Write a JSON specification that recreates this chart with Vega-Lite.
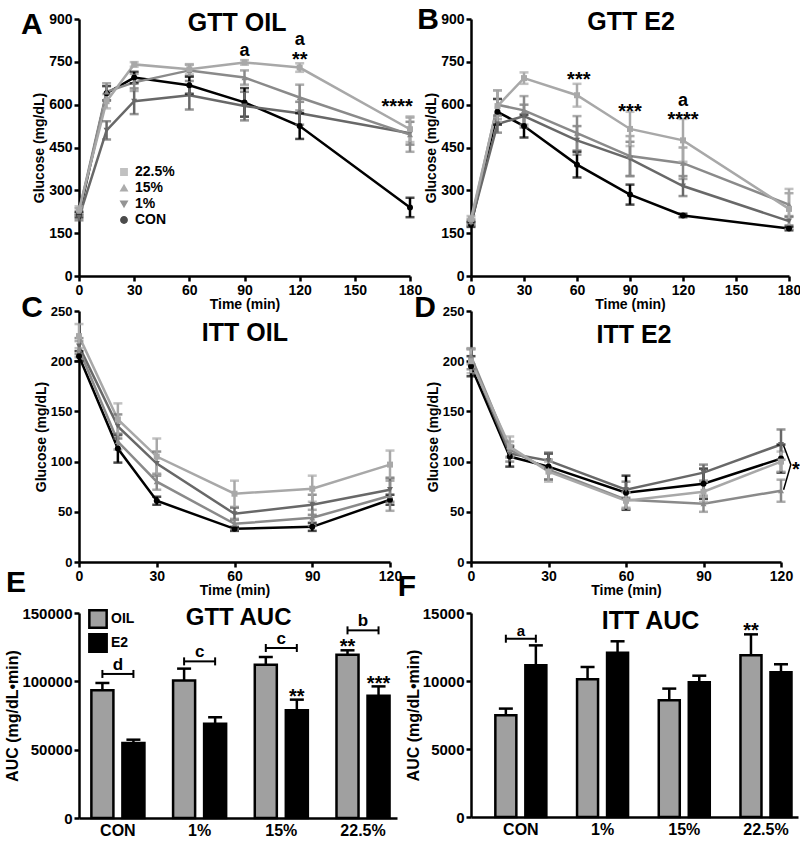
{
"$schema": "https://vega.github.io/schema/vega-lite/v6.json",
"background": "white",
"padding": {"left": 4, "top": 5, "right": 2, "bottom": 2},
"config": {
 "font": "Liberation Sans",
 "view": {"stroke": null},
 "axis": {"grid": false, "domainColor": "#000", "domainWidth": 2.5, "tickColor": "#000", "tickWidth": 2.5, "tickSize": 5, "labelColor": "#000", "labelFont": "Liberation Sans", "labelFontWeight": "bold", "labelFontSize": 14, "titleFont": "Liberation Sans", "titleFontWeight": "bold", "titleFontSize": 14, "titleColor": "#000", "labelPadding": 2, "titlePadding": 2, "labelFlush": false, "labelOverlap": false},
 "axisX": {"titlePadding": 0},
 "legend": {"labelFont": "Liberation Sans", "labelFontWeight": "bold", "labelColor": "#000"},
 "text": {"font": "Liberation Sans", "fontWeight": "bold", "color": "#000"}
},
"datasets": {
 "gttOil": [
  {"t":0,"group":"CON","mean":215,"sem":10},{"t":15,"group":"CON","mean":640,"sem":25},{"t":30,"group":"CON","mean":695,"sem":20},{"t":60,"group":"CON","mean":668,"sem":30},{"t":90,"group":"CON","mean":608,"sem":50},{"t":120,"group":"CON","mean":525,"sem":45},{"t":180,"group":"CON","mean":240,"sem":34},
  {"t":0,"group":"1%","mean":205,"sem":10},{"t":15,"group":"1%","mean":510,"sem":32},{"t":30,"group":"1%","mean":612,"sem":45},{"t":60,"group":"1%","mean":633,"sem":50},{"t":90,"group":"1%","mean":595,"sem":50},{"t":120,"group":"1%","mean":570,"sem":40},{"t":180,"group":"1%","mean":500,"sem":40},
  {"t":0,"group":"15%","mean":225,"sem":12},{"t":15,"group":"15%","mean":645,"sem":30},{"t":30,"group":"15%","mean":678,"sem":30},{"t":60,"group":"15%","mean":720,"sem":20},{"t":90,"group":"15%","mean":695,"sem":25},{"t":120,"group":"15%","mean":625,"sem":45},{"t":180,"group":"15%","mean":495,"sem":60},
  {"t":0,"group":"22.5%","mean":232,"sem":12},{"t":15,"group":"22.5%","mean":612,"sem":25},{"t":30,"group":"22.5%","mean":741,"sem":8},{"t":60,"group":"22.5%","mean":724,"sem":18},{"t":90,"group":"22.5%","mean":748,"sem":8},{"t":120,"group":"22.5%","mean":730,"sem":15},{"t":180,"group":"22.5%","mean":514,"sem":45}
 ],
 "gttE2": [
  {"t":0,"group":"CON","mean":180,"sem":8},{"t":15,"group":"CON","mean":575,"sem":45},{"t":30,"group":"CON","mean":525,"sem":40},{"t":60,"group":"CON","mean":390,"sem":45},{"t":90,"group":"CON","mean":285,"sem":35},{"t":120,"group":"CON","mean":212,"sem":6},{"t":180,"group":"CON","mean":166,"sem":6},
  {"t":0,"group":"1%","mean":185,"sem":8},{"t":15,"group":"1%","mean":532,"sem":30},{"t":30,"group":"1%","mean":560,"sem":40},{"t":60,"group":"1%","mean":475,"sem":50},{"t":90,"group":"1%","mean":410,"sem":60},{"t":120,"group":"1%","mean":315,"sem":35},{"t":180,"group":"1%","mean":192,"sem":15},
  {"t":0,"group":"15%","mean":190,"sem":10},{"t":15,"group":"15%","mean":600,"sem":50},{"t":30,"group":"15%","mean":580,"sem":50},{"t":60,"group":"15%","mean":500,"sem":60},{"t":90,"group":"15%","mean":420,"sem":70},{"t":120,"group":"15%","mean":395,"sem":55},{"t":180,"group":"15%","mean":250,"sem":40},
  {"t":0,"group":"22.5%","mean":200,"sem":10},{"t":15,"group":"22.5%","mean":595,"sem":55},{"t":30,"group":"22.5%","mean":693,"sem":20},{"t":60,"group":"22.5%","mean":633,"sem":40},{"t":90,"group":"22.5%","mean":515,"sem":60},{"t":120,"group":"22.5%","mean":475,"sem":75},{"t":180,"group":"22.5%","mean":235,"sem":70}
 ],
 "ittOil": [
  {"t":0,"group":"CON","mean":205,"sem":5},{"t":15,"group":"CON","mean":113,"sem":14},{"t":30,"group":"CON","mean":61,"sem":4},{"t":60,"group":"CON","mean":33,"sem":2},{"t":90,"group":"CON","mean":35,"sem":4},{"t":120,"group":"CON","mean":62,"sem":5},
  {"t":0,"group":"1%","mean":215,"sem":8},{"t":15,"group":"1%","mean":135,"sem":12},{"t":30,"group":"1%","mean":98,"sem":12},{"t":60,"group":"1%","mean":48,"sem":6},{"t":90,"group":"1%","mean":57,"sem":10},{"t":120,"group":"1%","mean":72,"sem":12},
  {"t":0,"group":"15%","mean":212,"sem":8},{"t":15,"group":"15%","mean":120,"sem":8},{"t":30,"group":"15%","mean":80,"sem":8},{"t":60,"group":"15%","mean":38,"sem":5},{"t":90,"group":"15%","mean":44,"sem":8},{"t":120,"group":"15%","mean":66,"sem":15},
  {"t":0,"group":"22.5%","mean":225,"sem":12},{"t":15,"group":"22.5%","mean":142,"sem":16},{"t":30,"group":"22.5%","mean":105,"sem":18},{"t":60,"group":"22.5%","mean":68,"sem":13},{"t":90,"group":"22.5%","mean":73,"sem":13},{"t":120,"group":"22.5%","mean":97,"sem":14}
 ],
 "ittE2": [
  {"t":0,"group":"CON","mean":195,"sem":10},{"t":15,"group":"CON","mean":105,"sem":10},{"t":30,"group":"CON","mean":95,"sem":13},{"t":60,"group":"CON","mean":69,"sem":17},{"t":90,"group":"CON","mean":78,"sem":15},{"t":120,"group":"CON","mean":103,"sem":14},
  {"t":0,"group":"1%","mean":202,"sem":10},{"t":15,"group":"1%","mean":108,"sem":8},{"t":30,"group":"1%","mean":101,"sem":8},{"t":60,"group":"1%","mean":72,"sem":8},{"t":90,"group":"1%","mean":89,"sem":8},{"t":120,"group":"1%","mean":117,"sem":15},
  {"t":0,"group":"15%","mean":205,"sem":8},{"t":15,"group":"15%","mean":112,"sem":8},{"t":30,"group":"15%","mean":92,"sem":10},{"t":60,"group":"15%","mean":62,"sem":8},{"t":90,"group":"15%","mean":58,"sem":8},{"t":120,"group":"15%","mean":71,"sem":11},
  {"t":0,"group":"22.5%","mean":200,"sem":12},{"t":15,"group":"22.5%","mean":115,"sem":10},{"t":30,"group":"22.5%","mean":90,"sem":10},{"t":60,"group":"22.5%","mean":61,"sem":8},{"t":90,"group":"22.5%","mean":70,"sem":10},{"t":120,"group":"22.5%","mean":100,"sem":10}
 ],
 "gttAuc": [
  {"cat":"CON","trt":"OIL","mean":93400,"hi":98800},{"cat":"CON","trt":"E2","mean":54900,"hi":57300},
  {"cat":"1%","trt":"OIL","mean":100700,"hi":109300},{"cat":"1%","trt":"E2","mean":69000,"hi":73700},
  {"cat":"15%","trt":"OIL","mean":112200,"hi":117800},{"cat":"15%","trt":"E2","mean":78800,"hi":86600},
  {"cat":"22.5%","trt":"OIL","mean":119500,"hi":122700},{"cat":"22.5%","trt":"E2","mean":89500,"hi":96300}
 ],
 "ittAuc": [
  {"cat":"CON","trt":"OIL","mean":7480,"hi":7970},{"cat":"CON","trt":"E2","mean":11150,"hi":12620},
  {"cat":"1%","trt":"OIL","mean":10120,"hi":11030},{"cat":"1%","trt":"E2","mean":12080,"hi":12920},
  {"cat":"15%","trt":"OIL","mean":8580,"hi":9440},{"cat":"15%","trt":"E2","mean":9900,"hi":10390},
  {"cat":"22.5%","trt":"OIL","mean":11890,"hi":13430},{"cat":"22.5%","trt":"E2","mean":10640,"hi":11230}
 ],
 "gttBr": [{"cat":"CON","lvl":105400,"lab":"d"},{"cat":"1%","lvl":114600,"lab":"c"},{"cat":"15%","lvl":124400,"lab":"c"},{"cat":"22.5%","lvl":137300,"lab":"b"}],
 "gttCap": [{"cat":"CON","trt":"OIL","lvl":105400},{"cat":"CON","trt":"E2","lvl":105400},{"cat":"1%","trt":"OIL","lvl":114600},{"cat":"1%","trt":"E2","lvl":114600},{"cat":"15%","trt":"OIL","lvl":124400},{"cat":"15%","trt":"E2","lvl":124400},{"cat":"22.5%","trt":"OIL","lvl":137300},{"cat":"22.5%","trt":"E2","lvl":137300}],
 "gttStar": [{"cat":"22.5%","trt":"OIL","v":132500,"lab":"**"},{"cat":"15%","trt":"E2","v":95500,"lab":"**"},{"cat":"22.5%","trt":"E2","v":105500,"lab":"***"}],
 "ittBr": [{"cat":"CON","lvl":13110,"lab":"a"}],
 "ittCap": [{"cat":"CON","trt":"OIL","lvl":13110},{"cat":"CON","trt":"E2","lvl":13110}],
 "ittStar": [{"cat":"22.5%","trt":"OIL","v":14400,"lab":"**"}]
},
"columns": 2,
"align": "each",
"spacing": {"row": -30, "column": -25},
"resolve": {"scale": {"x": "independent", "y": "independent", "color": "independent", "shape": "independent", "fill": "independent", "xOffset": "independent"}},
"concat": [
 {
  "width": 331, "height": 257,
  "layer": [
   {"data": {"name": "gttOil"}, "mark": {"type": "line", "strokeWidth": 2.5},
    "encoding": {
     "x": {"field": "t", "type": "quantitative", "scale": {"domain": [0, 180], "nice": false}, "axis": {"values": [0,30,60,90,120,150,180]}, "title": "Time (min)"},
     "y": {"field": "mean", "type": "quantitative", "scale": {"domain": [0, 900], "nice": false}, "axis": {"values": [0,150,300,450,600,750,900]}, "title": "Glucose (mg/dL)"},
     "color": {"field": "group", "type": "nominal", "scale": {"domain": ["22.5%","15%","1%","CON"], "range": ["#a8a8a8","#8a8a8a","#686868","#000000"]}, "legend": {"title": null, "orient": "none", "legendX": 38, "legendY": 146, "labelFontSize": 14, "symbolSize": 40, "rowPadding": 2, "labelOffset": 4}}
    }},
   {"data": {"name": "gttOil"}, "mark": {"type": "errorbar", "ticks": {"size": 9}, "thickness": 2.5},
    "encoding": {"x": {"field": "t", "type": "quantitative"}, "y": {"field": "mean", "type": "quantitative", "title": "Glucose (mg/dL)"}, "yError": {"field": "sem"}, "color": {"field": "group", "type": "nominal"}}},
   {"data": {"name": "gttOil"}, "mark": {"type": "point", "filled": true, "size": 36, "opacity": 1},
    "encoding": {"x": {"field": "t", "type": "quantitative"}, "y": {"field": "mean", "type": "quantitative", "title": "Glucose (mg/dL)"}, "color": {"field": "group", "type": "nominal"},
     "shape": {"field": "group", "type": "nominal", "scale": {"domain": ["22.5%","15%","1%","CON"], "range": ["square","triangle-up","triangle-down","circle"]}, "legend": {"title": null, "orient": "none", "legendX": 38, "legendY": 146, "labelFontSize": 14, "symbolSize": 40, "rowPadding": 2, "labelOffset": 4}}}},
   {"data": {"values": [{"t":90,"v":771,"lab":"a"},{"t":120,"v":808,"lab":"a"}]}, "mark": {"type": "text", "fontSize": 18, "baseline": "alphabetic"},
    "encoding": {"x": {"field": "t", "type": "quantitative"}, "y": {"field": "v", "type": "quantitative"}, "text": {"field": "lab"}}},
   {"data": {"values": [{"t":120,"v":790,"lab":"**"},{"t":173,"v":628,"lab":"****"}]}, "mark": {"type": "text", "fontSize": 20, "baseline": "top"},
    "encoding": {"x": {"field": "t", "type": "quantitative"}, "y": {"field": "v", "type": "quantitative"}, "text": {"field": "lab"}}},
   {"data": {"values": [{"lab": "A"}]}, "mark": {"type": "text", "fontSize": 30, "baseline": "middle"},
    "encoding": {"x": {"datum": -25.6, "type": "quantitative"}, "y": {"datum": 879, "type": "quantitative"}, "text": {"field": "lab"}}},
   {"data": {"values": [{"lab": "GTT OIL"}]}, "mark": {"type": "text", "fontSize": 25, "baseline": "middle"},
    "encoding": {"x": {"datum": 86, "type": "quantitative"}, "y": {"datum": 886, "type": "quantitative"}, "text": {"field": "lab"}}}
  ]
 },
 {
  "width": 318, "height": 257,
  "layer": [
   {"data": {"name": "gttE2"}, "mark": {"type": "line", "strokeWidth": 2.5},
    "encoding": {
     "x": {"field": "t", "type": "quantitative", "scale": {"domain": [0, 180], "nice": false}, "axis": {"values": [0,30,60,90,120,150,180]}, "title": "Time (min)"},
     "y": {"field": "mean", "type": "quantitative", "scale": {"domain": [0, 900], "nice": false}, "axis": {"values": [0,150,300,450,600,750,900]}, "title": "Glucose (mg/dL)"},
     "color": {"field": "group", "type": "nominal", "scale": {"domain": ["22.5%","15%","1%","CON"], "range": ["#a8a8a8","#8a8a8a","#686868","#000000"]}, "legend": null}
    }},
   {"data": {"name": "gttE2"}, "mark": {"type": "errorbar", "ticks": {"size": 9}, "thickness": 2.5},
    "encoding": {"x": {"field": "t", "type": "quantitative"}, "y": {"field": "mean", "type": "quantitative", "title": "Glucose (mg/dL)"}, "yError": {"field": "sem"}, "color": {"field": "group", "type": "nominal", "legend": null}}},
   {"data": {"name": "gttE2"}, "mark": {"type": "point", "filled": true, "size": 36, "opacity": 1},
    "encoding": {"x": {"field": "t", "type": "quantitative"}, "y": {"field": "mean", "type": "quantitative", "title": "Glucose (mg/dL)"}, "color": {"field": "group", "type": "nominal", "legend": null},
     "shape": {"field": "group", "type": "nominal", "scale": {"domain": ["22.5%","15%","1%","CON"], "range": ["square","triangle-up","triangle-down","circle"]}, "legend": null}}},
   {"data": {"values": [{"t":120,"v":595,"lab":"a"}]}, "mark": {"type": "text", "fontSize": 18, "baseline": "alphabetic"},
    "encoding": {"x": {"field": "t", "type": "quantitative"}, "y": {"field": "v", "type": "quantitative"}, "text": {"field": "lab"}}},
   {"data": {"values": [{"t":61,"v":722,"lab":"***"},{"t":90,"v":610,"lab":"***"},{"t":120,"v":580,"lab":"****"}]}, "mark": {"type": "text", "fontSize": 20, "baseline": "top"},
    "encoding": {"x": {"field": "t", "type": "quantitative"}, "y": {"field": "v", "type": "quantitative"}, "text": {"field": "lab"}}},
   {"data": {"values": [{"lab": "B"}]}, "mark": {"type": "text", "fontSize": 30, "baseline": "middle"},
    "encoding": {"x": {"datum": -24.3, "type": "quantitative"}, "y": {"datum": 895, "type": "quantitative"}, "text": {"field": "lab"}}},
   {"data": {"values": [{"lab": "GTT E2"}]}, "mark": {"type": "text", "fontSize": 25, "baseline": "middle"},
    "encoding": {"x": {"datum": 90.6, "type": "quantitative"}, "y": {"datum": 888, "type": "quantitative"}, "text": {"field": "lab"}}}
  ]
 },
 {
  "width": 311, "height": 251,
  "layer": [
   {"data": {"name": "ittOil"}, "mark": {"type": "line", "strokeWidth": 2.5},
    "encoding": {
     "x": {"field": "t", "type": "quantitative", "scale": {"domain": [0, 120], "nice": false}, "axis": {"values": [0,30,60,90,120]}, "title": "Time (min)"},
     "y": {"field": "mean", "type": "quantitative", "scale": {"domain": [0, 250], "nice": false}, "axis": {"values": [0,50,100,150,200,250], "labelFontSize": 13}, "title": "Glucose (mg/dL)"},
     "color": {"field": "group", "type": "nominal", "scale": {"domain": ["22.5%","15%","1%","CON"], "range": ["#a8a8a8","#8a8a8a","#686868","#000000"]}, "legend": null}
    }},
   {"data": {"name": "ittOil"}, "mark": {"type": "errorbar", "ticks": {"size": 9}, "thickness": 2.5},
    "encoding": {"x": {"field": "t", "type": "quantitative"}, "y": {"field": "mean", "type": "quantitative", "title": "Glucose (mg/dL)"}, "yError": {"field": "sem"}, "color": {"field": "group", "type": "nominal", "legend": null}}},
   {"data": {"name": "ittOil"}, "mark": {"type": "point", "filled": true, "size": 36, "opacity": 1},
    "encoding": {"x": {"field": "t", "type": "quantitative"}, "y": {"field": "mean", "type": "quantitative", "title": "Glucose (mg/dL)"}, "color": {"field": "group", "type": "nominal", "legend": null},
     "shape": {"field": "group", "type": "nominal", "scale": {"domain": ["22.5%","15%","1%","CON"], "range": ["square","triangle-up","triangle-down","circle"]}, "legend": null}}},
   {"data": {"values": [{"lab": "C"}]}, "mark": {"type": "text", "fontSize": 30, "baseline": "middle"},
    "encoding": {"x": {"datum": -18.1, "type": "quantitative"}, "y": {"datum": 253, "type": "quantitative"}, "text": {"field": "lab"}}},
   {"data": {"values": [{"lab": "ITT OIL"}]}, "mark": {"type": "text", "fontSize": 25, "baseline": "middle"},
    "encoding": {"x": {"datum": 64, "type": "quantitative"}, "y": {"datum": 228, "type": "quantitative"}, "text": {"field": "lab"}}}
  ]
 },
 {
  "width": 310, "height": 251,
  "layer": [
   {"data": {"name": "ittE2"}, "mark": {"type": "line", "strokeWidth": 2.5},
    "encoding": {
     "x": {"field": "t", "type": "quantitative", "scale": {"domain": [0, 120], "nice": false}, "axis": {"values": [0,30,60,90,120]}, "title": "Time (min)"},
     "y": {"field": "mean", "type": "quantitative", "scale": {"domain": [0, 250], "nice": false}, "axis": {"values": [0,50,100,150,200,250], "labelFontSize": 13}, "title": "Glucose (mg/dL)"},
     "color": {"field": "group", "type": "nominal", "scale": {"domain": ["22.5%","15%","1%","CON"], "range": ["#a8a8a8","#8a8a8a","#686868","#000000"]}, "legend": null}
    }},
   {"data": {"name": "ittE2"}, "mark": {"type": "errorbar", "ticks": {"size": 9}, "thickness": 2.5},
    "encoding": {"x": {"field": "t", "type": "quantitative"}, "y": {"field": "mean", "type": "quantitative", "title": "Glucose (mg/dL)"}, "yError": {"field": "sem"}, "color": {"field": "group", "type": "nominal", "legend": null}}},
   {"data": {"name": "ittE2"}, "mark": {"type": "point", "filled": true, "size": 36, "opacity": 1},
    "encoding": {"x": {"field": "t", "type": "quantitative"}, "y": {"field": "mean", "type": "quantitative", "title": "Glucose (mg/dL)"}, "color": {"field": "group", "type": "nominal", "legend": null},
     "shape": {"field": "group", "type": "nominal", "scale": {"domain": ["22.5%","15%","1%","CON"], "range": ["square","triangle-up","triangle-down","circle"]}, "legend": null}}},
   {"data": {"values": [{"t":121,"v":116,"o":1},{"t":123.8,"v":97,"o":2},{"t":121,"v":72,"o":3}]}, "mark": {"type": "line", "strokeWidth": 1.5, "color": "#000"},
    "encoding": {"x": {"field": "t", "type": "quantitative"}, "y": {"field": "v", "type": "quantitative"}, "order": {"field": "o"}}},
   {"data": {"values": [{"t":125.8,"v":97,"lab":"*"}]}, "mark": {"type": "text", "fontSize": 20, "baseline": "middle", "dy": 5},
    "encoding": {"x": {"field": "t", "type": "quantitative"}, "y": {"field": "v", "type": "quantitative"}, "text": {"field": "lab"}}},
   {"data": {"values": [{"lab": "D"}]}, "mark": {"type": "text", "fontSize": 30, "baseline": "middle"},
    "encoding": {"x": {"datum": -17.8, "type": "quantitative"}, "y": {"datum": 253, "type": "quantitative"}, "text": {"field": "lab"}}},
   {"data": {"values": [{"lab": "ITT E2"}]}, "mark": {"type": "text", "fontSize": 25, "baseline": "middle"},
    "encoding": {"x": {"datum": 63.1, "type": "quantitative"}, "y": {"datum": 226, "type": "quantitative"}, "text": {"field": "lab"}}}
  ]
 },
 {
  "width": 318, "height": 205,
  "layer": [
   {"data": {"name": "gttAuc"}, "mark": {"type": "bar", "stroke": "#000", "strokeWidth": 2.5},
    "encoding": {
     "x": {"field": "cat", "type": "nominal", "scale": {"domain": ["CON","1%","15%","22.5%"], "paddingInner": 0.34, "paddingOuter": 0.116, "align": 0.63}, "axis": {"title": null, "labelAngle": 0, "ticks": false, "labelFontSize": 16, "labelPadding": 4}},
     "xOffset": {"field": "trt", "type": "nominal", "scale": {"domain": ["OIL","E2"], "paddingInner": 0.29, "paddingOuter": 0.014}},
     "y": {"field": "mean", "type": "quantitative", "scale": {"domain": [0, 150000], "nice": false}, "axis": {"values": [0,50000,100000,150000], "format": "d", "labelFontSize": 15, "titleFontSize": 16, "titlePadding": 1}, "title": "AUC  (mg/dL•min)"},
     "fill": {"field": "trt", "type": "nominal", "scale": {"domain": ["OIL","E2"], "range": ["#a0a0a0","#000000"]}, "legend": {"title": null, "orient": "none", "legendX": 9, "legendY": -4, "symbolType": "square", "symbolSize": 300, "symbolStrokeColor": "#000", "symbolStrokeWidth": 2.5, "labelFontSize": 14, "rowPadding": -10, "labelOffset": 3}}
    }},
   {"data": {"name": "gttAuc"}, "mark": {"type": "rule", "strokeWidth": 2.5, "color": "#000"},
    "encoding": {"x": {"field": "cat", "type": "nominal"}, "xOffset": {"field": "trt", "type": "nominal"}, "y": {"field": "mean", "type": "quantitative", "title": "AUC  (mg/dL•min)"}, "y2": {"field": "hi"}}},
   {"data": {"name": "gttAuc"}, "mark": {"type": "tick", "orient": "horizontal", "size": 14, "thickness": 2.5, "color": "#000", "opacity": 1},
    "encoding": {"x": {"field": "cat", "type": "nominal"}, "xOffset": {"field": "trt", "type": "nominal"}, "y": {"field": "hi", "type": "quantitative", "title": "AUC  (mg/dL•min)"}}},
   {"data": {"name": "gttBr"}, "mark": {"type": "tick", "orient": "horizontal", "size": 31, "thickness": 2, "color": "#000", "opacity": 1},
    "encoding": {"x": {"field": "cat", "type": "nominal"}, "y": {"field": "lvl", "type": "quantitative"}}},
   {"data": {"name": "gttCap"}, "mark": {"type": "tick", "orient": "vertical", "size": 8, "thickness": 2, "color": "#000", "opacity": 1},
    "encoding": {"x": {"field": "cat", "type": "nominal"}, "xOffset": {"field": "trt", "type": "nominal"}, "y": {"field": "lvl", "type": "quantitative"}}},
   {"data": {"name": "gttBr"}, "mark": {"type": "text", "fontSize": 17, "baseline": "alphabetic", "dy": -4},
    "encoding": {"x": {"field": "cat", "type": "nominal"}, "y": {"field": "lvl", "type": "quantitative"}, "text": {"field": "lab"}}},
   {"data": {"name": "gttStar"}, "mark": {"type": "text", "fontSize": 20, "baseline": "top"},
    "encoding": {"x": {"field": "cat", "type": "nominal"}, "xOffset": {"field": "trt", "type": "nominal"}, "y": {"field": "v", "type": "quantitative"}, "text": {"field": "lab"}}},
   {"data": {"values": [{"lab": "E"}]}, "mark": {"type": "text", "fontSize": 30, "baseline": "middle", "dx": -102},
    "encoding": {"x": {"datum": "CON", "type": "nominal"}, "y": {"datum": 172000, "type": "quantitative"}, "text": {"field": "lab"}}},
   {"data": {"values": [{"lab": "GTT AUC"}]}, "mark": {"type": "text", "fontSize": 24, "baseline": "middle", "dx": 39},
    "encoding": {"x": {"datum": "1%", "type": "nominal"}, "y": {"datum": 146000, "type": "quantitative"}, "text": {"field": "lab"}}}
  ]
 },
 {
  "width": 327, "height": 204,
  "layer": [
   {"data": {"name": "ittAuc"}, "mark": {"type": "bar", "stroke": "#000", "strokeWidth": 2.5},
    "encoding": {
     "x": {"field": "cat", "type": "nominal", "scale": {"domain": ["CON","1%","15%","22.5%"], "paddingInner": 0.35, "paddingOuter": 0.176, "align": 0.81}, "axis": {"title": null, "labelAngle": 0, "ticks": false, "labelFontSize": 16, "labelPadding": 4}},
     "xOffset": {"field": "trt", "type": "nominal", "scale": {"domain": ["OIL","E2"], "paddingInner": 0.3, "paddingOuter": 0.035}},
     "y": {"field": "mean", "type": "quantitative", "scale": {"domain": [0, 15000], "nice": false}, "axis": {"values": [0,5000,10000,15000], "format": "d", "labelFontSize": 15, "titleFontSize": 16, "titlePadding": 1}, "title": "AUC  (mg/dL•min)"},
     "fill": {"field": "trt", "type": "nominal", "scale": {"domain": ["OIL","E2"], "range": ["#a0a0a0","#000000"]}, "legend": null}
    }},
   {"data": {"name": "ittAuc"}, "mark": {"type": "rule", "strokeWidth": 2.5, "color": "#000"},
    "encoding": {"x": {"field": "cat", "type": "nominal"}, "xOffset": {"field": "trt", "type": "nominal"}, "y": {"field": "mean", "type": "quantitative", "title": "AUC  (mg/dL•min)"}, "y2": {"field": "hi"}}},
   {"data": {"name": "ittAuc"}, "mark": {"type": "tick", "orient": "horizontal", "size": 14, "thickness": 2.5, "color": "#000", "opacity": 1},
    "encoding": {"x": {"field": "cat", "type": "nominal"}, "xOffset": {"field": "trt", "type": "nominal"}, "y": {"field": "hi", "type": "quantitative", "title": "AUC  (mg/dL•min)"}}},
   {"data": {"name": "ittBr"}, "mark": {"type": "tick", "orient": "horizontal", "size": 30, "thickness": 2, "color": "#000", "opacity": 1},
    "encoding": {"x": {"field": "cat", "type": "nominal"}, "y": {"field": "lvl", "type": "quantitative"}}},
   {"data": {"name": "ittCap"}, "mark": {"type": "tick", "orient": "vertical", "size": 8, "thickness": 2, "color": "#000", "opacity": 1},
    "encoding": {"x": {"field": "cat", "type": "nominal"}, "xOffset": {"field": "trt", "type": "nominal"}, "y": {"field": "lvl", "type": "quantitative"}}},
   {"data": {"name": "ittBr"}, "mark": {"type": "text", "fontSize": 15, "baseline": "alphabetic", "dy": -3},
    "encoding": {"x": {"field": "cat", "type": "nominal"}, "y": {"field": "lvl", "type": "quantitative"}, "text": {"field": "lab"}}},
   {"data": {"name": "ittStar"}, "mark": {"type": "text", "fontSize": 20, "baseline": "top"},
    "encoding": {"x": {"field": "cat", "type": "nominal"}, "xOffset": {"field": "trt", "type": "nominal"}, "y": {"field": "v", "type": "quantitative"}, "text": {"field": "lab"}}},
   {"data": {"values": [{"lab": "F"}]}, "mark": {"type": "text", "fontSize": 30, "baseline": "middle", "dx": -114},
    "encoding": {"x": {"datum": "CON", "type": "nominal"}, "y": {"datum": 16900, "type": "quantitative"}, "text": {"field": "lab"}}},
   {"data": {"values": [{"lab": "ITT AUC"}]}, "mark": {"type": "text", "fontSize": 25, "baseline": "middle", "dx": 48},
    "encoding": {"x": {"datum": "1%", "type": "nominal"}, "y": {"datum": 14410, "type": "quantitative"}, "text": {"field": "lab"}}}
  ]
 }
]
}
